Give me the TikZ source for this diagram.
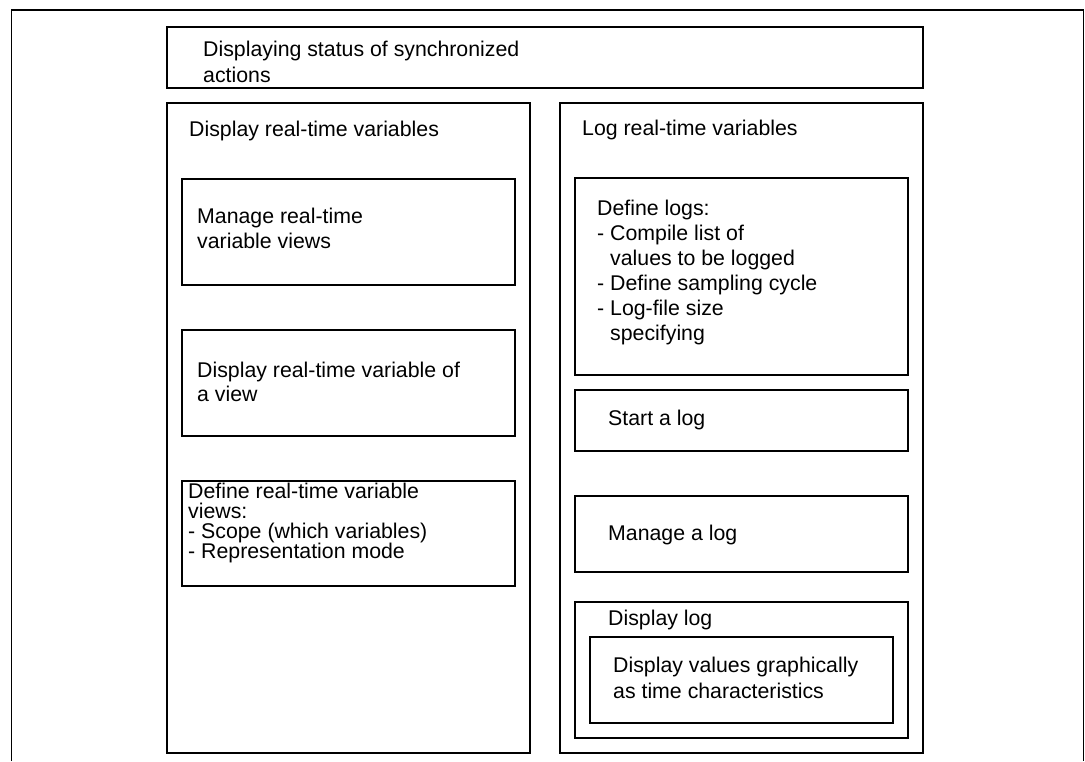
\documentclass[tikz,border=0pt]{standalone}
\usepackage{fontspec}
\setmainfont{Liberation Sans}
\begin{document}
\begin{tikzpicture}[x=1pt,y=-1pt,
  frame/.style={draw=black,line width=1.7pt,inner sep=0pt,anchor=north west,fill=none},
  label/.style={inner sep=0pt,anchor=north west,align=left,font=\fontsize{21.3}{25}\selectfont},
  lead/.style={font=\fontsize{21.3}{#1}\selectfont}]
\useasboundingbox (0,0) rectangle (1085,761);

% outer frame, open at the bottom
\coordinate (fbl) at (11.5,761);
\coordinate (ftl) at (11.5,10);
\coordinate (ftr) at (1083.5,10);
\coordinate (fbr) at (1083.5,761);
\draw[line width=1.6pt] (fbl) -- (ftl) -- (ftr) -- (fbr);

% title bar
\node[frame,minimum width=756,minimum height=61] (title) at (166,26) {};
\node[label,lead=26.5] (titletext) at (203,40.5) {Displaying status of synchronized\\actions};

% left column: display
\node[frame,minimum width=363,minimum height=650] (disp) at (166,102) {};
\node[label] (disptext) at (189,120.5) {Display real-time variables};

\node[frame,minimum width=333,minimum height=106] (manage) at (181,178) {};
\node[label,lead=25] (managetext) at (197,207.5) {Manage real-time\\variable views};

\node[frame,minimum width=333,minimum height=106] (view) at (181,329) {};
\node[label,lead=24] (viewtext) at (197,361.5) {Display real-time variable of\\a view};

\node[frame,minimum width=333,minimum height=105] (define) at (181,480) {};
\node[label,lead=20] (definetext) at (188,482.5) {Define real-time variable\\views:\\- Scope (which variables)\\- Representation mode};

% right column: logging
\node[frame,minimum width=363,minimum height=650] (log) at (559,102) {};
\node[label] (logtext) at (582,119.5) {Log real-time variables};

\node[frame,minimum width=333,minimum height=197] (deflog) at (574,177) {};
\node[label,lead=25] (deflogtext) at (597,199.5) {Define logs:\\- Compile list of\\\hphantom{-\ }values to be logged\\- Define sampling cycle\\- Log-file size\\\hphantom{-\ }specifying};

\node[frame,minimum width=333,minimum height=61] (start) at (574,389) {};
\node[label] (starttext) at (608,409.5) {Start a log};

\node[frame,minimum width=333,minimum height=76] (mlog) at (574,495) {};
\node[label] (mlogtext) at (608,524.5) {Manage a log};

\node[frame,minimum width=333,minimum height=136] (dlog) at (574,601) {};
\node[label] (dlogtext) at (608,609.5) {Display log};

\node[frame,minimum width=303,minimum height=86] (graph) at (589,636) {};
\node[label,lead=26] (graphtext) at (613,656.5) {Display values graphically\\as time characteristics};
\end{tikzpicture}
\end{document}
